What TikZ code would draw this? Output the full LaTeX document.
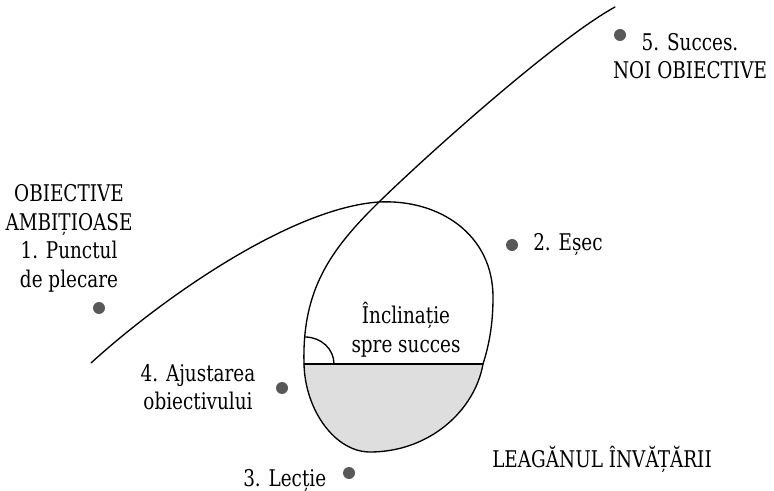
\documentclass[tikz,border=0pt]{standalone}
\usepackage{fontspec}
\setmainfont[FakeStretch=0.8]{DejaVu Serif}
\usepackage{xcolor}
\definecolor{ColDot}{RGB}{88,88,88}
\definecolor{ColShade}{RGB}{222,222,222}
\usepackage{tikz}
\tikzstyle{Dot}=[circle,fill=ColDot,inner sep=0pt,minimum size=9pt]
\tikzstyle{Label}=[inner sep=0pt,align=center,
font=\fontsize{17.25}{21.4}\selectfont]
\tikzstyle{Curve}=[draw=black,line width=1pt,line cap=round]
\tikzstyle{Shade}=[fill=ColShade]

\begin{document}
\begin{tikzpicture}[x=0.75pt,y=-0.75pt]
        \useasboundingbox(0,0)rectangle(774,491);
        % points of the curve
        \coordinate(a)at(91,363);
        \coordinate(c)at(379,202);
        \coordinate(r)at(493,297);
        \coordinate(d)at(483,364);
        \coordinate(b)at(370,452);
        \coordinate(e)at(304,364);
        \coordinate(f)at(615,7);
        % the cradle
        \path[Shade](d)..controls(475,410)and(430,452)..(b)
            ..controls(335,452)and(305,410)..(e)--cycle;
        \draw[Curve](a)..controls(160,300)and(290,208)..(c)
            ..controls(440,199)and(493,235)..(r)
            ..controls(493,325)and(489,345)..(d)
            ..controls(475,410)and(430,452)..(b)
            ..controls(335,452)and(305,410)..(e)
            ..controls(302,290)and(330,250)..(c)
            ..controls(425,157)and(555,40)..(f);
        \draw[Curve](e)--(d);
        \coordinate(g1)at(305,337);
        \coordinate(g2)at(334,364);
        \draw[Curve](g1)..controls(321,337)and(334,349)..(g2);
        % dots
        \node[Dot](d1)at(99,308){};
        \node[Dot](d2)at(512,245){};
        \node[Dot](d3)at(349,473){};
        \node[Dot](d4)at(282,388){};
        \node[Dot](d5)at(620,35){};
        % labels
        \node[Label,anchor=north](t1)at(69,184.5)
            {OBIECTIVE\\AMBIȚIOASE\\1. Punctul\\de plecare};
        \node[Label,anchor=base west](t2)at(533,251){2. Eșec};
        \node[Label,anchor=base west](t3)at(243,486){3. Lecție};
        \node[Label,anchor=north](t4)at(198,364)
            {4. Ajustarea\\obiectivului};
        \node[Label,anchor=north](t5)at(690,33)
            {5. Succes.\\NOI OBIECTIVE};
        \node[Label,anchor=north](t6)at(406,302)
            {Înclinație\\spre succes};
        \node[Label,anchor=base west](t7)at(492,467)
            {LEAGĂNUL ÎNVĂȚĂRII};
    \end{tikzpicture}
\end{document}
